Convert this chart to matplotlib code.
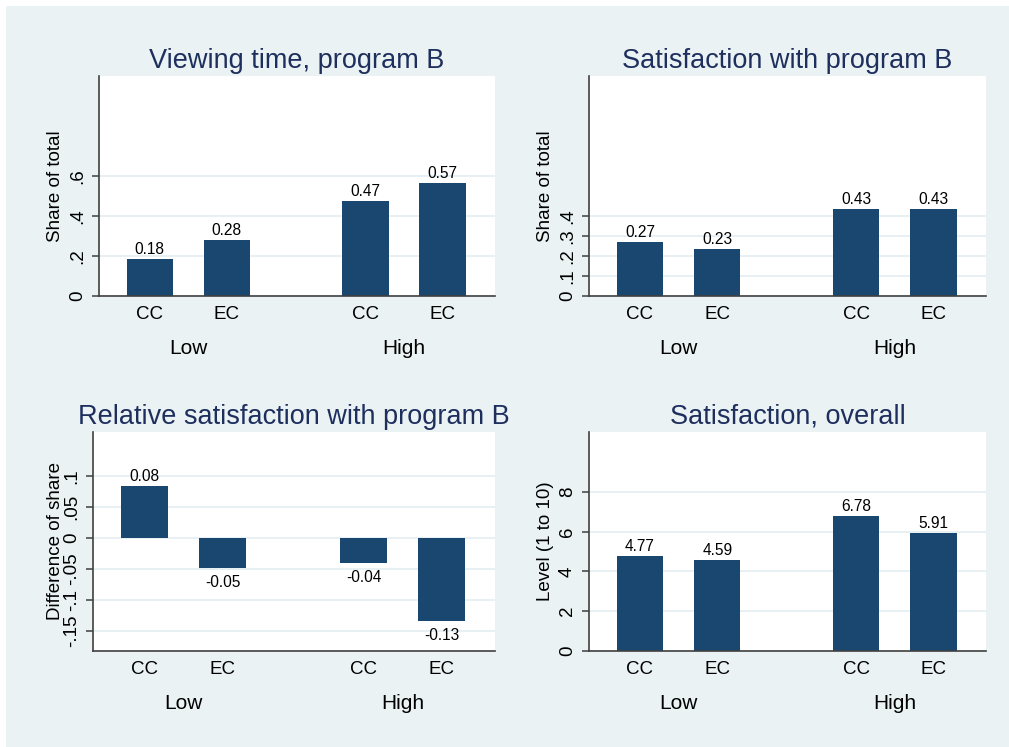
import matplotlib
matplotlib.use("Agg")
import matplotlib.pyplot as plt
from matplotlib.patches import Rectangle

plt.rcParams['font.family'] = ['Liberation Sans', 'DejaVu Sans']

groups = ["Low", "High"]
conditions = ["CC", "EC", "CC", "EC"]

viewing_time = [0.184, 0.282, 0.473, 0.567]
satisfaction_b = [0.268, 0.235, 0.433, 0.433]
relative_sat = [0.084, -0.048, -0.041, -0.134]
satisfaction_overall = [4.77, 4.59, 6.78, 5.91]

titles = ["Viewing time, program B", "Satisfaction with program B",
          "Relative satisfaction with program B", "Satisfaction, overall"]
ylabels = ["Share of total", "Share of total", "Difference of share", "Level (1 to 10)"]
yticks_list = [[0, 0.2, 0.4, 0.6], [0, 0.1, 0.2, 0.3, 0.4],
               [-0.15, -0.1, -0.05, 0, 0.05, 0.1], [0, 2, 4, 6, 8]]
yticklabels_list = [["0", ".2", ".4", ".6"], ["0", ".1", ".2", ".3", ".4"],
                    ["-.15", "-.1", "-.05", "0", ".05", ".1"], ["0", "2", "4", "6", "8"]]
ylims = [(0, 1.1), (0, 1.1), (-0.183, 0.172), (0, 11.0)]
series = [viewing_time, satisfaction_b, relative_sat, satisfaction_overall]

W, H = 1009, 747
BG = "#EAF2F3"
BAR = "#1A476F"
TITLE_C = "#1E2F5E"
SPINE = "#404040"
GRID = "#E6EFF2"

fig = plt.figure(figsize=(W / 100, H / 100), dpi=100, facecolor="white")
fig.patches.append(Rectangle((6 / W, 0), 1 - 6 / W, 1 - 6 / H, transform=fig.transFigure,
                             facecolor=BG, edgecolor="none", zorder=-10))

boxes = [(99, 495, 76, 296), (589, 986, 76, 296), (93, 495, 432, 651), (589, 986, 432, 651)]
ylabel_x = [55, 545, 55, 545]

positions = [0, 1, 2.8, 3.8]
group_mid = [0.5, 3.3]

for i in range(4):
    l, r, t, b = boxes[i]
    ax = fig.add_axes([l / W, 1 - b / H, (r - l) / W, (b - t) / H])
    ax.set_facecolor("white")
    vals = series[i]
    ax.bar(positions, vals, width=0.6, color=BAR, zorder=3)
    ax.set_xlim(-0.66, 4.48)
    ax.set_ylim(*ylims[i])
    ax.set_yticks(yticks_list[i])
    ax.set_yticklabels(yticklabels_list[i], va="center")
    ax.tick_params(axis="y", labelrotation=90, length=5, width=1.1, color=SPINE,
                   labelsize=13.5, pad=4.5)
    ax.set_xticks(positions)
    ax.set_xticklabels(conditions)
    ax.tick_params(axis="x", length=0, labelsize=13.5, pad=7)
    for s in ["top", "right"]:
        ax.spines[s].set_visible(False)
    for s in ["left", "bottom"]:
        ax.spines[s].set_color(SPINE)
        ax.spines[s].set_linewidth(1.2)
        ax.spines[s].set_zorder(4)
    ax.grid(axis="y", color=GRID, linewidth=1.3, zorder=0)
    ax.set_axisbelow(True)
    ax.set_title(titles[i], fontsize=19.5, color=TITLE_C, pad=6)
    ax.set_ylabel(ylabels[i], fontsize=13.5, va="center")
    ax.yaxis.set_label_coords((ylabel_x[i] - l) / (r - l), 0.5)
    for x, v in zip(positions, vals):
        if v >= 0:
            ax.annotate(f"{v:.2f}", xy=(x, v), xytext=(0, 1.5), textcoords="offset points",
                        ha="center", va="bottom", fontsize=11.2)
        else:
            ax.annotate(f"{v:.2f}", xy=(x, v), xytext=(0, -5), textcoords="offset points",
                        ha="center", va="top", fontsize=11.2)
    for gm, g in zip(group_mid, groups):
        ax.annotate(g, xy=(gm, 0), xycoords=("data", "axes fraction"),
                    xytext=(0, -37.5), textcoords="offset points",
                    ha="center", va="center", fontsize=15)

fig.savefig("out.png", dpi=100, facecolor=fig.get_facecolor())
